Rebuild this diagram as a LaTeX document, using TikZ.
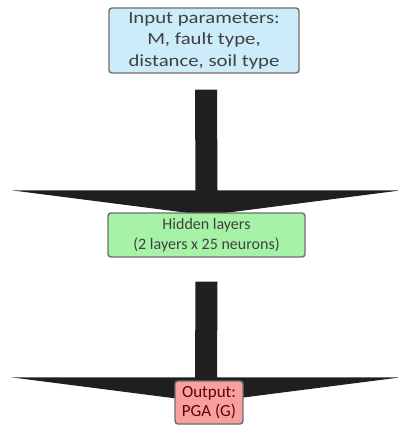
\documentclass[tikz,border=0pt]{standalone}
\usepackage{fontspec}
\setmainfont{Carlito}
\newfontfamily\widefont[FakeStretch=1.22]{Carlito}
\usetikzlibrary{calc,backgrounds}

\definecolor{inblue}{RGB}{204,236,250}
\definecolor{hidgreen}{RGB}{166,242,166}
\definecolor{outred}{RGB}{248,160,160}
\definecolor{boxgray}{RGB}{110,110,110}

\tikzset{
  stagebox/.style = {rectangle, rounded corners = 3pt, draw = boxgray,
                     line width = 1.4pt, align = center, inner sep = 2pt},
  arrowfill/.style = {fill = black!88}
}

% shaft top, tip
\newcommand{\blockarrow}[2]{%
  \fill[arrowfill] ($(#1)+(-11,0)$) -- ($(#2)+(-11,-25)$)
    -- ($(#2)+(-195,-25)$) -- (#2) -- ($(#2)+(195,-25)$)
    -- ($(#2)+(11,-25)$) -- ($(#1)+(11,0)$) -- cycle;}

\begin{document}
\begin{tikzpicture}[x=1pt,y=-1pt]

    \useasboundingbox (0,0) rectangle (398,425);

    \node[stagebox,
          fill = inblue,
          text = black!75,
          minimum width = 190pt,
          minimum height = 65pt,
          font = \widefont\fontsize{17}{21.5}\selectfont
          ] (inp) at (204,40.5) {Input parameters:\\M, fault type,\\distance, soil type};

    \node[stagebox,
          fill = hidgreen,
          text = black!75,
          minimum width = 197pt,
          minimum height = 44pt,
          font = \fontsize{16}{20}\selectfont
          ] (hid) at (206.5,235) {Hidden layers\\(2 layers x 25 neurons)};

    \node[stagebox,
          fill = outred,
          text = red!40!black,
          minimum width = 68pt,
          minimum height = 43pt,
          font = \fontsize{17}{19}\selectfont
          ] (out) at (209,402.5) {Output:\\PGA (G)};

    %arrows
    \coordinate (s1) at ([xshift=2pt,yshift=-16pt]inp.south);
    \coordinate (t1) at ([yshift=-3pt]hid.north);
    \coordinate (s2) at ([xshift=0pt,yshift=-24pt]hid.south);
    \coordinate (t2) at ([xshift=-3pt,yshift=-22pt]out.north);

    \begin{scope}[on background layer]
    \blockarrow{s1}{t1}
    \blockarrow{s2}{t2}
    \end{scope}

\end{tikzpicture}
\end{document}
